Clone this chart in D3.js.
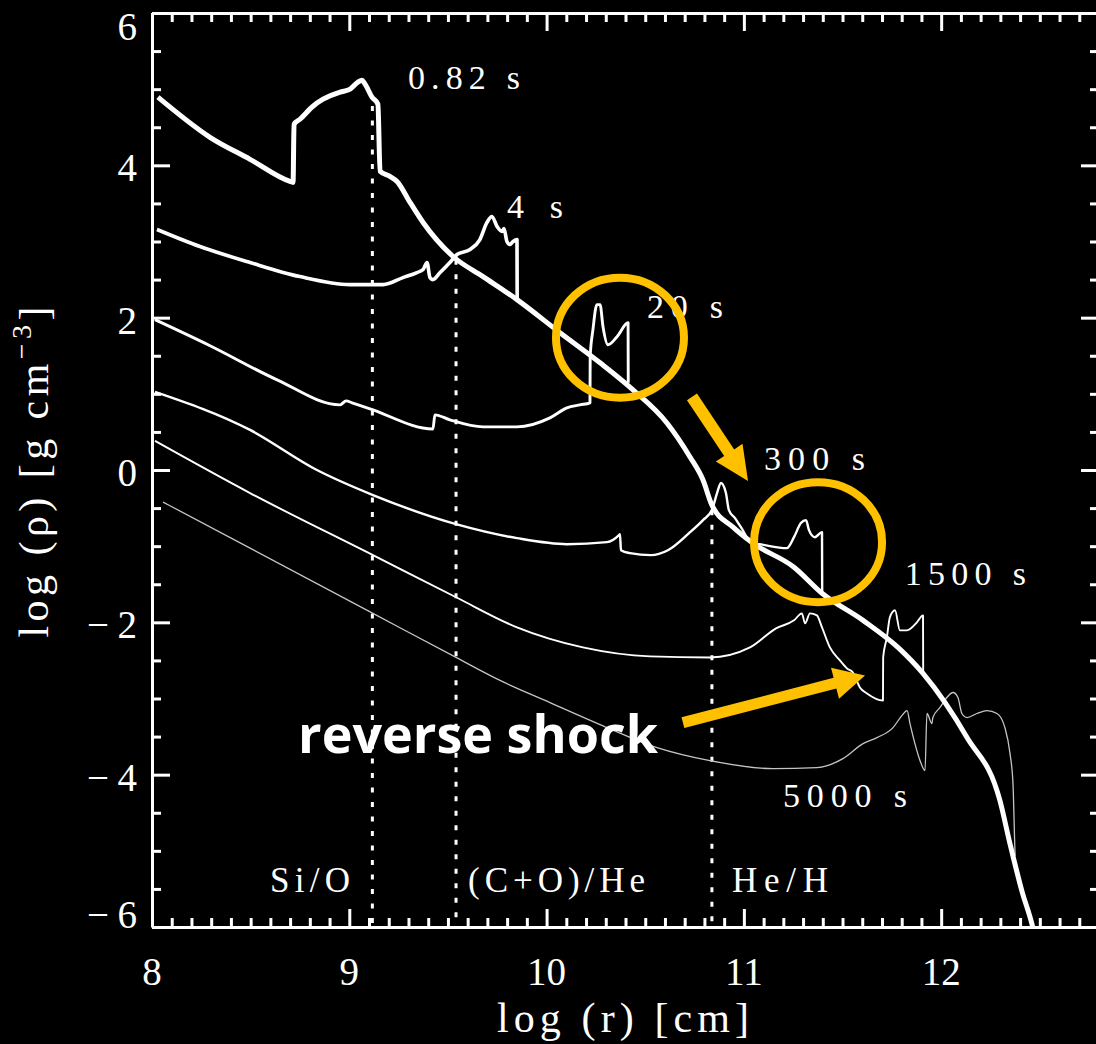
<!DOCTYPE html>
<html>
<head>
<meta charset="utf-8">
<script src="https://cdn.jsdelivr.net/npm/d3@7"></script>
<style>
  body { margin: 0; background: #000; }
  svg { display: block; }
</style>
</head>
<body>
<div id="chart"></div>
<script>
// log(r) [cm] , log(rho) [g cm^-3]
const t082 = [[8.030,4.895],[8.294,4.368],[8.497,4.079],[8.699,3.789],[8.715,3.776],[8.720,4.539],[8.750,4.605],
  [8.816,4.776],[8.867,4.868],[8.953,4.961],[9.004,5.000],[9.044,5.092],[9.064,5.118],[9.080,5.066],[9.115,4.895],
  [9.145,4.803],[9.156,3.921],[9.206,3.855],[9.242,3.789],[9.308,3.513],[9.374,3.250],[9.526,2.803],[9.678,2.539],
  [9.850,2.237],[10.068,1.803],[10.271,1.408],[10.438,1.053],[10.610,0.618],[10.727,0.171],[10.793,-0.132],
  [10.838,-0.461],[10.945,-0.750],[11.046,-0.961],[11.254,-1.276],[11.396,-1.618],[11.604,-1.974],[11.781,-2.329],
  [11.908,-2.671],[12.131,-3.513],[12.298,-4.342],[12.349,-4.908],[12.409,-5.526],[12.465,-6.013],[12.500,-6.46]];

const t4 = [[8.025,3.158],[8.243,2.934],[8.497,2.724],[8.750,2.539],[9.004,2.434],[9.171,2.434],[9.272,2.526],
  [9.343,2.592],[9.374,2.632],[9.394,2.724],[9.409,2.526],[9.424,2.500],[9.460,2.592],[9.510,2.724],[9.546,2.829],
  [9.612,2.895],[9.662,3.026],[9.698,3.250],[9.723,3.329],[9.749,3.197],[9.774,3.132],[9.784,3.171],[9.799,3.000],
  [9.814,2.961],[9.830,3.000],[9.850,3.026],[9.851,2.237]];

const t20 = [[8.015,1.974],[8.294,1.632],[8.634,1.184],[8.953,0.855],[8.984,0.908],[9.014,0.882],[9.105,0.803],
  [9.424,0.539],[9.434,0.724],[9.510,0.658],[9.678,0.566],[9.850,0.566],[10.017,0.684],[10.103,0.816],
  [10.169,0.855],[10.220,0.882],[10.221,1.487],[10.235,1.842],[10.255,2.171],[10.271,2.171],[10.286,1.882],
  [10.311,1.645],[10.357,1.750],[10.413,1.934],[10.414,1.145]];

const t300 = [[8.015,1.026],[8.497,0.526],[8.836,0.000],[9.120,-0.329],[9.541,-0.711],[9.850,-0.895],
  [10.103,-0.974],[10.306,-0.947],[10.367,-0.855],[10.372,-0.842],[10.377,-1.053],[10.423,-1.092],[10.529,-1.118],
  [10.615,-1.053],[10.722,-0.829],[10.793,-0.658],[10.838,-0.526],[10.864,-0.303],[10.884,-0.171],[10.909,-0.303],
  [10.924,-0.526],[10.955,-0.632],[10.985,-0.750],[11.041,-0.961],[11.077,-0.974],[11.218,-1.026],[11.254,-0.882],
  [11.289,-0.697],[11.315,-0.658],[11.330,-0.789],[11.360,-0.882],[11.396,-0.816],[11.397,-1.618]];

const t1500 = [[8.015,0.382],[8.497,-0.303],[9.120,-1.118],[9.541,-1.671],[9.850,-2.066],[10.184,-2.329],
  [10.524,-2.447],[10.828,-2.461],[11.031,-2.329],[11.163,-2.079],[11.254,-1.974],[11.294,-1.882],[11.310,-2.013],
  [11.335,-1.882],[11.370,-1.908],[11.396,-2.066],[11.436,-2.329],[11.487,-2.500],[11.523,-2.605],[11.553,-2.658],
  [11.588,-2.855],[11.624,-2.934],[11.705,-3.026],[11.706,-2.461],[11.725,-2.197],[11.740,-1.934],[11.766,-1.842],
  [11.791,-2.105],[11.827,-2.105],[11.877,-2.000],[11.908,-1.908],[11.909,-2.671]];

const t5000 = [[8.056,-0.421],[8.497,-1.026],[9.120,-1.882],[9.541,-2.461],[9.764,-2.763],[10.017,-3.053],
  [10.271,-3.342],[10.560,-3.645],[10.828,-3.816],[11.147,-3.921],[11.370,-3.908],[11.502,-3.789],[11.604,-3.592],
  [11.675,-3.513],[11.756,-3.382],[11.801,-3.224],[11.827,-3.158],[11.842,-3.329],[11.867,-3.592],[11.893,-3.816],
  [11.918,-3.947],[11.928,-3.197],[11.953,-3.329],[11.958,-3.250],[11.994,-3.118],[12.029,-2.987],[12.060,-2.921],
  [12.085,-2.987],[12.105,-3.197],[12.131,-3.250],[12.181,-3.197],[12.232,-3.158],[12.283,-3.197],[12.323,-3.382],
  [12.349,-3.724],[12.364,-4.118],[12.374,-5.000],[12.375,-5.066]];

// composition boundaries (log r) and where the dotted lines stop
const boundaryR = [9.117, 9.541, 10.838];
const boundaryTop = [4.78, 2.76, -0.53];
const zoneNames = ["Si/O", "(C+O)/He", "He/H"];

const timeNames = ["0.82 s", "4 s", "20 s", "300 s", "1500 s", "5000 s"];

const xMajor = [8, 9, 10, 11, 12];
const xMinor = d3.range(80, 129).filter(d => d % 10 !== 0).map(d => d / 10);
const yMajor = [-6, -4, -2, 0, 2, 4, 6];
const yMinor = d3.range(-12, 13).filter(d => d % 4 !== 0).map(d => d / 2);

// ---- layout ----
const W = 1096, H = 1044;
const serif = "'Liberation Serif', 'Times New Roman', serif";
const white = "#fff", gold = "#FFC000";

const x = d3.scaleLinear().domain([8, 12.8]).range([152, 1099]);
const y = d3.scaleLinear().domain([-6, 6]).range([927, 13]);

const svg = d3.select("#chart").append("svg")
    .attr("width", W).attr("height", H)
    .style("background", "#000");

svg.append("defs").append("clipPath").attr("id", "plot")
  .append("rect")
    .attr("x", x(8)).attr("y", y(6))
    .attr("width", x(12.8) - x(8)).attr("height", y(-6) - y(6));

// dotted boundaries
svg.append("g").selectAll("line")
  .data(boundaryR)
  .enter().append("line")
    .attr("x1", d => x(d)).attr("x2", d => x(d))
    .attr("y1", (d, i) => y(boundaryTop[i])).attr("y2", y(-6))
    .attr("stroke", white).attr("stroke-width", 3)
    .attr("stroke-dasharray", "5,9.5");

// curves
const curves = [
  { data: t5000, w: 1.3, c: "#c4c4c4" },
  { data: t1500, w: 1.9, c: white },
  { data: t300, w: 2.4, c: white },
  { data: t20, w: 2.9, c: white },
  { data: t4, w: 3.6, c: white },
  { data: t082, w: 5, c: white }
];
const line = d3.line().x(d => x(d[0])).y(d => y(d[1])).curve(d3.curveMonotoneX);

svg.append("g").attr("clip-path", "url(#plot)")
  .selectAll("path")
  .data(curves)
  .enter().append("path")
    .attr("d", d => line(d.data))
    .attr("fill", "none")
    .attr("stroke", d => d.c)
    .attr("stroke-width", d => d.w)
    .attr("stroke-linejoin", "round");

// axes (IDL style, ticks pointing inward on all four sides)
function ticks(gen, transform, values, size) {
  const g = svg.append("g").attr("transform", transform)
      .call(gen.tickValues(values).tickSize(size).tickSizeOuter(0).tickFormat(""));
  g.selectAll("line").attr("stroke", white).attr("stroke-width", 3);
  g.select(".domain").attr("stroke", white).attr("stroke-width", 3);
  return g;
}
ticks(d3.axisBottom(x), `translate(0,${y(-6)})`, xMajor, -18);
ticks(d3.axisBottom(x), `translate(0,${y(-6)})`, xMinor, -9).select(".domain").remove();
ticks(d3.axisTop(x), `translate(0,${y(6)})`, xMajor, -18);
ticks(d3.axisTop(x), `translate(0,${y(6)})`, xMinor, -9).select(".domain").remove();
ticks(d3.axisLeft(y), `translate(${x(8)},0)`, yMajor, -18);
ticks(d3.axisLeft(y), `translate(${x(8)},0)`, yMinor, -9).select(".domain").remove();
ticks(d3.axisRight(y), `translate(${x(12.8)},0)`, yMajor, -18);
ticks(d3.axisRight(y), `translate(${x(12.8)},0)`, yMinor, -9).select(".domain").remove();

// tick labels
svg.append("g").selectAll("text")
  .data(xMajor)
  .enter().append("text")
    .attr("x", d => x(d)).attr("y", 985)
    .attr("text-anchor", "middle")
    .attr("font-family", serif).attr("font-size", 39).attr("fill", white)
    .text(d => d);

svg.append("g").selectAll("text")
  .data(yMajor)
  .enter().append("text")
    .attr("x", 137)
    .attr("y", d => y(d) + (d === 6 ? 27 : d === -6 ? 1 : 16))
    .attr("text-anchor", "end")
    .attr("font-family", serif).attr("font-size", 39).attr("fill", white)
    .each(function(d) { if (d < 0) d3.select(this).attr("textLength", 50).attr("lengthAdjust", "spacing"); })
    .text(d => d < 0 ? "\u2212" + Math.abs(d) : d);

// axis titles
svg.append("text")
    .attr("x", 623).attr("y", 1032)
    .attr("text-anchor", "middle")
    .attr("font-family", serif).attr("font-size", 42).attr("fill", white)
    .attr("textLength", 252).attr("lengthAdjust", "spacing")
    .text("log (r) [cm]");

const yt = svg.append("text")
    .attr("transform", "translate(48,472) rotate(-90)")
    .attr("text-anchor", "middle")
    .attr("font-family", serif).attr("font-size", 42).attr("fill", white)
    .attr("textLength", 331).attr("lengthAdjust", "spacing");
yt.append("tspan").text("log (\u03C1) [g cm");
yt.append("tspan").attr("font-size", 28).attr("dy", -17).text("\u22123");
yt.append("tspan").attr("dy", 17).text("]");

// curve and zone labels
const notes = {
  time: [[9.297, 5.0, 112], [9.799, 3.303, 56], [10.509, 2.0, 76], [11.102, 0.0, 101], [11.816, -1.513, 121], [11.198, -4.421, 124]],
  zone: [[8.598, -5.54, 80], [9.602, -5.54, 177], [10.940, -5.54, 96]],
  circles: [[10.372, 1.737], [11.376, -0.947]],
  arrows: [[10.737, 0.961, 11.021, -0.145, 12, 34, 32], [10.691, -3.316, 11.614, -2.697, 11, 31, 32]],
  shock: [8.740, -3.711]
};

svg.append("g").selectAll("text")
  .data(timeNames)
  .enter().append("text")
    .attr("x", (d, i) => x(notes.time[i][0])).attr("y", (d, i) => y(notes.time[i][1]))
    .attr("font-family", serif).attr("font-size", 34).attr("fill", white)
    .attr("textLength", (d, i) => notes.time[i][2]).attr("lengthAdjust", "spacing")
    .text(d => d);

svg.append("g").selectAll("text")
  .data(zoneNames)
  .enter().append("text")
    .attr("x", (d, i) => x(notes.zone[i][0])).attr("y", (d, i) => y(notes.zone[i][1]))
    .attr("font-family", serif).attr("font-size", 35).attr("fill", white)
    .attr("textLength", (d, i) => notes.zone[i][2]).attr("lengthAdjust", "spacing")
    .text(d => d);

// orange highlights
svg.append("g").selectAll("ellipse")
  .data(notes.circles)
  .enter().append("ellipse")
    .attr("cx", d => x(d[0])).attr("cy", d => y(d[1]))
    .attr("rx", 64).attr("ry", 60)
    .attr("fill", "none").attr("stroke", gold).attr("stroke-width", 8);

function arrowPoints(a) {
  const x1 = x(a[0]), y1 = y(a[1]), x2 = x(a[2]), y2 = y(a[3]);
  const s = a[4] / 2, hl = a[5], hw = a[6] / 2;
  const L = Math.hypot(x2 - x1, y2 - y1), ux = (x2 - x1) / L, uy = (y2 - y1) / L;
  const px = -uy, py = ux, bx = x2 - ux * hl, by = y2 - uy * hl;
  return [[x1 + px * s, y1 + py * s], [bx + px * s, by + py * s], [bx + px * hw, by + py * hw], [x2, y2],
          [bx - px * hw, by - py * hw], [bx - px * s, by - py * s], [x1 - px * s, y1 - py * s]]
    .map(p => p.join(",")).join(" ");
}
svg.append("g").selectAll("polygon")
  .data(notes.arrows)
  .enter().append("polygon")
    .attr("points", arrowPoints)
    .attr("fill", gold);

svg.append("text")
    .attr("x", x(notes.shock[0])).attr("y", y(notes.shock[1]))
    .attr("font-family", "'Open Sans', 'Liberation Sans', sans-serif")
    .attr("font-weight", "bold").attr("font-size", 52).attr("fill", white)
    .attr("textLength", 360).attr("lengthAdjust", "spacingAndGlyphs")
    .text("reverse shock");
</script>
</body>
</html>
